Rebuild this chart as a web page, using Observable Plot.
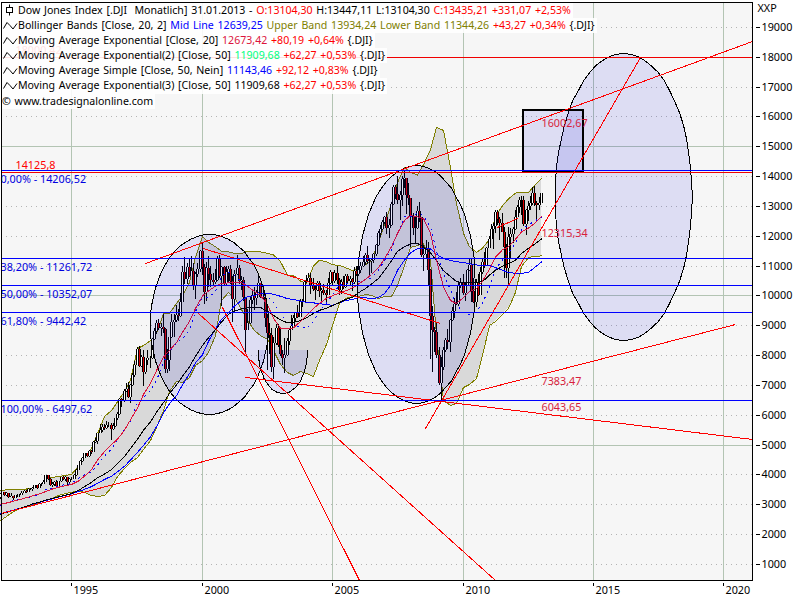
<!DOCTYPE html>
<html><head><meta charset="utf-8">
<script src="https://cdn.jsdelivr.net/npm/d3@7"></script>
<script src="https://cdn.jsdelivr.net/npm/@observablehq/plot@0.6"></script>
<style>
html,body{margin:0;padding:0;background:#fff}
#wrap{position:relative;width:800px;height:600px;overflow:hidden}
#legend{position:absolute;left:2px;top:3px;font:10.6px "Noto Sans",sans-serif;color:#000}
#legend div{height:15.1px;line-height:15px;white-space:pre;width:max-content;background:rgba(255,255,255,.88);padding-right:2px;word-spacing:1px}
#legend .i{display:inline-block;width:16px;height:13px;vertical-align:top;text-align:left}
#legend .i svg{display:block}
</style></head><body><div id="wrap"><div id="chart"></div><div id="legend"></div></div>
<script>
// monthly candles, April 1992 to January 2013
const opens=[3236,3359,3397,3319,3394,3257,3272,3226,3305,
3301,3310,3370,3435,3428,3527,3516,3540,3651,3555,3681,3684,
3754,3978,3832,3636,3682,3758,3625,3765,3913,3843,3908,3739,
3834,3844,3971,4158,4321,4465,4556,4709,4611,4789,4756,5075,
5117,5395,5486,5587,5569,5643,5655,5529,5616,5882,6029,6522,
6448,6813,6877,6584,7009,7331,7673,8223,7622,7945,7442,7823,
7908,7907,8546,8800,9063,8900,8952,8883,7539,7843,8592,9117,
9181,9359,9307,9786,10789,10560,10971,10655,10829,10337,10730,10878,
11497,10941,10128,10922,10734,10522,10448,10522,11215,10651,10971,10414,
10788,10887,10495,9879,10735,10912,10502,10523,9950,8848,9075,9852,
10022,9920,10106,10404,9946,9925,9243,8737,8663,7592,8397,8896,
8342,8054,7891,7992,8480,8850,8985,9234,9416,9275,9801,9782,
10454,10488,10584,10358,10226,10188,10435,10140,10173,10080,10027,10428,
10783,10490,10766,10504,10192,10467,10275,10641,10482,10569,10440,10806,
10718,10865,10993,11109,11367,11168,11150,11186,11381,11679,12081,12221,
12463,12621,12269,12354,13063,13628,13409,13212,13358,13896,13930,13372,
13265,12650,12266,12263,12820,12638,11350,11378,11544,10851,9325,8829,
8776,8001,7063,7609,8168,8500,8447,9172,9496,9712,9713,10344,
10428,10067,10325,10857,11009,10137,9774,10466,10015,10788,11118,11006,
11578,11892,12226,12320,12811,12570,12414,12143,11614,10913,11955,12046,
12218,12633,12952,13212,13214,12393,12880,13009,13091,13437,13096,13026,
13104];
const highs=[3375,3415,3410,3425,3395,3390,3280,3325,3340,
3340,3450,3490,3480,3555,3560,3580,3655,3660,3700,3710,3800,
3990,3985,3895,3735,3790,3810,3790,3930,3945,3950,3880,3880,
3930,4012,4175,4330,4480,4600,4730,4700,4810,4820,5110,5220,
5405,5680,5700,5690,5780,5750,5720,5720,5890,6090,6560,6580,
6860,7080,7100,7040,7390,7800,8260,8300,8000,8180,7850,8170,
7980,8570,8900,9190,9220,9070,9370,8920,8200,8600,9380,9380,
9680,9560,10080,11000,11290,11100,11210,11330,11080,10800,11100,11530,
11750,11050,11120,11310,11000,10750,10900,11310,11350,10980,11000,11000,
10980,11030,10650,10860,11350,11010,10650,10610,9950,9560,9950,10200,
10280,10180,10670,10400,10350,9950,9380,9080,8900,8620,9050,9050,
8870,8180,8560,8560,8920,9350,9350,9460,9690,9880,9880,10480,
10700,10750,10760,10580,10320,10490,10480,10240,10370,10200,10570,10870,
10790,10850,10980,10570,10560,10650,10720,10720,10650,10600,10940,10990,
11050,11120,11330,11420,11670,11260,11240,11430,11730,12170,12360,12530,
12660,12790,12550,13120,13690,13700,14020,13500,14000,14200,13930,13770,
13280,12770,12620,13010,13140,12640,11700,11870,11790,10880,9650,8950,
9090,8280,7950,8260,8590,8880,9210,9630,9920,10120,10500,10580,
10730,10410,10880,11260,11210,10600,10560,10720,10950,11250,11450,11630,
11990,12400,12420,12880,12880,12620,12760,12290,11720,12280,12250,12290,
12850,13050,13290,13340,13340,12910,13160,13330,13650,13660,13160,13310,
13447];
const lows=[3180,3335,3265,3280,3220,3250,3135,3195,3255,
3240,3300,3365,3370,3425,3465,3450,3535,3520,3550,3620,3680,
3740,3825,3620,3590,3630,3615,3620,3745,3830,3790,3660,3680,
3825,3840,3960,4150,4310,4430,4550,4590,4600,4700,4740,5060,
5030,5380,5420,5480,5530,5580,5170,5480,5590,5830,5990,6260,
6440,6780,6560,6390,6970,7270,7660,7600,7600,6970,7380,7660,
7580,7880,8500,8700,8850,8630,8740,7400,7400,7470,8560,8600,
9120,9130,9270,9780,10400,10400,10630,10650,10200,9880,10620,10800,
10700,9730,9800,10300,10300,10350,10400,10500,10600,9650,10350,10320,
10430,10400,9100,9400,10700,10400,10180,9830,8060,8830,9060,9700,
9500,9680,10100,9900,9860,8950,7500,8040,7450,7200,8350,8280,
7980,7670,7400,7960,8350,8830,8990,9120,9250,9280,9620,9780,
10410,10440,10050,10140,9850,10150,9950,9790,10000,9700,10030,10400,
10330,10430,10400,10010,10050,10230,10240,10380,10350,10160,10400,10660,
10660,10760,10950,11010,11050,10700,10740,11080,11310,11650,11950,12190,
12400,12050,11940,12330,13030,13240,13080,12520,13000,13600,12720,13050,
11630,12020,11730,12230,12480,11290,10830,11220,10360,7880,7450,8120,
7910,7000,6470,7490,8100,8220,8090,9130,9250,9670,9650,10260,
10000,9830,10320,10830,9770,9750,9620,9980,10000,10710,10930,11000,
11580,11880,11550,12090,12350,11870,12140,10600,10600,10400,11230,11760,
12200,12630,12750,12710,12340,12040,12490,12880,13040,12990,12470,12880,
13104];
const closes=[3359,3397,3319,3394,3257,3272,3226,3305,3301,
3310,3370,3435,3428,3527,3516,3540,3651,3555,3681,3684,3754,
3978,3832,3636,3682,3758,3625,3765,3913,3843,3908,3739,3834,
3844,3971,4158,4321,4465,4556,4709,4611,4789,4756,5075,5117,
5395,5486,5587,5569,5643,5655,5529,5616,5882,6029,6522,6448,
6813,6877,6584,7009,7331,7673,8223,7622,7945,7442,7823,7908,
7907,8546,8800,9063,8900,8952,8883,7539,7843,8592,9117,9181,
9359,9307,9786,10789,10560,10971,10655,10829,10337,10730,10878,11497,
10941,10128,10922,10734,10522,10448,10522,11215,10651,10971,10414,10788,
10887,10495,9879,10735,10912,10502,10523,9950,8848,9075,9852,10022,
9920,10106,10404,9946,9925,9243,8737,8663,7592,8397,8896,8342,
8054,7891,7992,8480,8850,8985,9234,9416,9275,9801,9782,10454,
10488,10584,10358,10226,10188,10435,10140,10173,10080,10027,10428,10783,
10490,10766,10504,10192,10467,10275,10641,10482,10569,10440,10806,10718,
10865,10993,11109,11367,11168,11150,11186,11381,11679,12081,12221,12463,
12621,12269,12354,13063,13628,13409,13212,13358,13896,13930,13372,13265,
12650,12266,12263,12820,12638,11350,11378,11544,10851,9325,8829,8776,
8001,7063,7609,8168,8500,8447,9172,9496,9712,9713,10344,10428,
10067,10325,10857,11009,10137,9774,10466,10015,10788,11118,11006,11578,
11892,12226,12320,12811,12570,12414,12143,11614,10913,11955,12046,12218,
12633,12952,13212,13214,12393,12880,13009,13091,13437,13096,13026,13104,
13435];
// quarterly readings, Q2 1992 to Q1 2013
const upperBand=[3480,3500,3510,3515,3530,3550,3600,3880,3915,3950,3985,4016,4300,4590,4880,5380,5960,6160,6450,6800,7170,8240,8340,8500,8740,9413,9413,9750,10000,10450,11300,12000,11800,11650,11500,11480,11430,11420,11500,11500,11480,11430,11380,11150,10700,10690,10500,10420,11000,11200,11150,11050,11020,10950,10850,10950,11050,11200,11800,12400,13100,13800,14300,14150,14050,14400,14900,15650,15550,14300,13100,12100,11650,11460,11600,11900,12650,13030,13250,13450,13470,13470,13700,13934];
const lowerBand=[2475,2608,2776,2877,2944,3011,3078,3145,3212,3313,3380,3413,3480,3413,3313,3280,3313,3580,3950,4218,4420,4586,4855,5156,5592,6162,6799,7134,7100,7268,7670,7838,8106,8675,9849,10117,9950,9547,9178,8843,8675,8542,8173,7704,7435,7335,7469,7402,7302,7838,8374,9011,9748,9916,9983,9983,10050,10017,9916,9983,9983,10352,11022,11626,11693,11760,11190,8675,6497,6329,6396,6933,7033,7234,8005,9011,9145,9380,9581,10117,10989,11290,11324,11344];
const midLine=[2980,3050,3140,3200,3240,3280,3340,3510,3560,3630,3680,3710,3890,4000,4100,4330,4640,4870,5200,5510,5800,6410,6600,6830,7170,7790,8110,8440,8550,8860,9480,9920,9950,10160,10670,10800,10690,10480,10340,10170,10080,9990,9780,9430,9070,9010,8980,8910,9150,9520,9760,10030,10380,10430,10420,10470,10550,10610,10860,11190,11540,12080,12660,12650,12780,12700,12300,11500,10750,10200,9700,9450,9380,9500,9750,10300,10900,11200,11420,11780,12230,12380,12510,12639];
const ema20=[3020,3060,3120,3170,3240,3300,3370,3440,3530,3590,3640,3680,3800,3960,4180,4500,4780,5020,5200,5500,5850,6250,6700,7070,7500,7950,8180,8440,8780,9150,9580,10000,10170,10330,10420,10440,10450,10450,10330,10150,10020,9700,9250,8920,8900,8930,9150,9350,9580,9750,9920,10010,10100,10170,10270,10400,10560,10720,10950,11250,11650,12100,12530,12700,12650,12600,12100,11200,10300,9850,9750,9950,10150,10250,10500,10900,11300,11550,11650,11900,12150,12280,12430,12673];
const ema50=[2690,2750,2810,2880,2950,3030,3090,3160,3210,3270,3320,3380,3480,3610,3750,3910,4030,4180,4380,4620,4890,5200,5500,5780,6100,6430,6730,7020,7310,7630,7980,8340,8600,8870,9130,9380,9490,9570,9600,9610,9620,9480,9350,9200,9100,9110,9180,9270,9420,9520,9590,9680,9780,9880,9960,10110,10250,10400,10590,10850,11180,11500,11650,11740,11760,11640,11450,11180,10850,10650,10480,10450,10450,10450,10480,10700,10860,11000,11090,11200,11420,11600,11730,11910];
const sma50=[2700,2760,2820,2880,2950,3020,3080,3140,3200,3260,3320,3370,3440,3520,3610,3720,3850,3960,4110,4290,4500,4760,4990,5280,5620,6080,6390,6660,7020,7400,7760,8030,8480,8900,9220,9450,9660,9850,9970,10020,10070,10090,10060,9990,9910,9880,9830,9790,9770,9740,9710,9690,9770,9850,9880,9950,9940,9900,9950,10080,10400,10860,11200,11450,11590,11600,11580,11400,11250,11190,11150,11120,11080,11040,11020,11020,10950,10860,10790,10760,10760,10790,10950,11143];
// horizontal levels and labels
const fibLevels=[14206.52,11261.72,10352.07,9442.42,6497.62];
const fibLabels=["0,00% - 14206,52","38,20% - 11261,72","50,00% - 10352,07","61,80% - 9442,42","100,00% - 6497,62"];
const redLevels=[14125.8,18000.42];
const redLabels=["14125,8","18000,42"];
// trend segments [year1,value1,year2,value2]
const trendSegments=[
[1997.82,11089,2021.10,18531],
[1992.30,2709,2020.44,9044],
[2000.05,11592,2009.13,9078],
[2001.66,7268,2021.10,5190],
[2008.56,5558,2016.80,17994],
[1999.85,9413,2011.24,464],
[2000.77,9614,2006.03,464],
[2011.32,12296,2012.08,12598]];
// ellipse extents [yearMin,yearMax,valueMin,valueMax]
const ellipses=[[1998.01,2002.54,6028,12061],[2005.95,2010.47,6396,14374],[2013.54,2018.79,8508,18128]];
const halfEllipse=[2002.15,2004.03,6731,9615];
const boxExtent=[2012.32,2014.62,14140,16218];
const labelsBelow=[[2013,7383.47,"7383,47"],[2013,12315.34,"12315,34"],[2013,16002.67,"16002,67"]];
const labelsAbove=[[2013,6043.65,"6043,65"]];
const yTicks=d3.range(1000,19001,1000);
const xTicks=[1995,2000,2005,2010,2015,2020];
const legendLines=[
 [["Dow Jones Index [.DJI  Monatlich] 31.01.2013 - ","#000"],["O:13104,30 ","#f00"],["H:13447,11 L:13104,30 ","#000"],["C:13435,21 +331,07 +2,53%","#f00"]],
 [["Bollinger Bands [Close, 20, 2] ","#000"],["Mid Line 12639,25 ","#00f"],["Upper Band 13934,24 Lower Band 11344,26 ","#808000"],["+43,27 +0,34% ","#f00"],["{.DJI}","#000"]],
 [["Moving Average Exponential [Close, 20] ","#000"],["12673,42 ","#dc143c"],["+80,19 +0,64% ","#f00"],["{.DJI}","#000"]],
 [["Moving Average Exponential(2) [Close, 50] ","#000"],["11909,68 ","#00ff7f"],["+62,27 +0,53% ","#f00"],["{.DJI}","#000"]],
 [["Moving Average Simple [Close, 50, Nein] ","#000"],["11143,46 ","#00f"],["+92,12 +0,83% ","#f00"],["{.DJI}","#000"]],
 [["Moving Average Exponential(3) [Close, 50] ","#000"],["11909,68 ","#000"],["+62,27 +0,53% ","#f00"],["{.DJI}","#000"]]
];
const creditLine="© www.tradesignalonline.com";

const candles=closes.map((c,i)=>({t:1992.25+i/12,o:opens[i],h:highs[i],l:lows[i],c}));
const quarterly=upperBand.map((u,i)=>({t:1992.25+i/4,u,l:lowerBand[i],m:midLine[i],e20:ema20[i],e50:ema50[i],s50:sma50[i]}));
const ell=(b,from=0,to=2*Math.PI)=>d3.range(0,61).map(k=>{const a=from+(to-from)*k/60;
  return {x:(b[0]+b[1])/2+(b[1]-b[0])/2*Math.cos(a),y:(b[2]+b[3])/2+(b[3]-b[2])/2*Math.sin(a)};});
const lav="rgb(20,20,220)";
const font='"Noto Sans",sans-serif';
const labelColor="#d81e3c";
const gridMinor=yTicks.filter(v=>v%5000);
const gridMajor=yTicks.filter(v=>v%5000===0);
const half=ell(halfEllipse,Math.PI,2*Math.PI);

const plot=Plot.plot({
 width:800,height:600,marginLeft:1,marginRight:48,marginTop:2,marginBottom:20,
 style:{fontFamily:font,fontSize:"10.8px",background:"#fff",color:"#000",shapeRendering:"crispEdges"},
 x:{domain:[1992.30,2021.10],range:[1,752],round:true},
 y:{domain:[463,19838],range:[580,2]},
 marks:[
  Plot.frame({fill:"#f6f6f6",stroke:"none"}),
  Plot.ruleY(gridMinor,{stroke:"#b4b4b4",strokeDasharray:"1,4"}),
  Plot.ruleY(gridMajor,{stroke:"#b3c4b3"}),
  Plot.ruleX(xTicks,{stroke:"#b3c4b3"}),
  Plot.areaY(quarterly,{x:"t",y1:"l",y2:"u",fill:"#d9d9d9"}),
  Plot.line(quarterly,{x:"t",y:"u",stroke:"#808000",strokeWidth:1}),
  Plot.line(quarterly,{x:"t",y:"l",stroke:"#808000",strokeWidth:1}),
  Plot.ruleX(candles,{x:"t",y1:"l",y2:"h",stroke:"#000",strokeWidth:1}),
  Plot.ruleX(candles,{x:"t",y1:"o",y2:"c",stroke:"#000",strokeWidth:3}),
  Plot.ruleX(candles,{x:"t",y1:"o",y2:"c",stroke:d=>d.c>=d.o?"#fff":"#e00000",strokeWidth:1}),
  Plot.line(quarterly,{x:"t",y:"m",stroke:"#0000ff",strokeWidth:1,strokeDasharray:"1,5"}),
  Plot.line(quarterly,{x:"t",y:"s50",stroke:"#0000ff",strokeWidth:1}),
  Plot.line(quarterly,{x:"t",y:"e50",stroke:"#000",strokeWidth:1}),
  Plot.line(quarterly,{x:"t",y:"e20",stroke:"#dc143c",strokeWidth:1}),
  ...ellipses.map(b=>Plot.line(ell(b),{x:"x",y:"y",fill:lav,fillOpacity:.11,stroke:"#000",strokeWidth:1})),
  Plot.line(half,{x:"x",y:"y",fill:lav,fillOpacity:.11,stroke:null}),
  Plot.line(half,{x:"x",y:"y",stroke:"#000",strokeWidth:1}),
  Plot.rect([boxExtent],{x1:d=>d[0],x2:d=>d[1],y1:d=>d[2],y2:d=>d[3],fill:lav,fillOpacity:.11,stroke:"#000",strokeWidth:1.5}),
  Plot.ruleY(redLevels,{stroke:"#f00000",strokeWidth:1}),
  Plot.link(trendSegments,{x1:d=>d[0],y1:d=>d[1],x2:d=>d[2],y2:d=>d[3],stroke:"#ff0000",strokeWidth:1,clip:true}),
  Plot.ruleY(fibLevels,{stroke:"#0000ff",strokeWidth:1}),
  Plot.text(fibLevels,{x:()=>1992.30,y:d=>d,text:(d,i)=>fibLabels[i],textAnchor:"start",dy:9,dx:-1,fill:"#0000e0",fontSize:10.8}),
  Plot.text(redLevels,{x:()=>1992.84,y:d=>d,text:(d,i)=>redLabels[i],textAnchor:"start",dy:-7,fill:"#f00",fontSize:10.8}),
  Plot.text(labelsBelow,{x:d=>d[0],y:d=>d[1],text:d=>d[2],dy:7,textAnchor:"start",fill:labelColor,fontSize:10.8}),
  Plot.text(labelsAbove,{x:d=>d[0],y:d=>d[1],text:d=>d[2],dy:-6,textAnchor:"start",fill:labelColor,fontSize:10.8}),
  Plot.frame({stroke:"#000",strokeWidth:1.5}),
  Plot.axisY(yTicks,{anchor:"right",label:null,tickSize:4,dx:3,tickPadding:2,tickFormat:d=>String(d)}),
  Plot.axisX(xTicks,{anchor:"bottom",label:null,tickSize:3,dy:3,tickFormat:()=>""}),
  Plot.axisX(xTicks,{anchor:"bottom",label:null,tickSize:0,tickPadding:6,dx:2,textAnchor:"start",tickFormat:d=>String(d)}),
  Plot.text(["XXP"],{x:()=>2021.10,y:()=>19637,text:d=>d,dx:5,textAnchor:"start",fill:"#000"})
 ]
});
document.getElementById("chart").appendChild(plot);
const lg=document.getElementById("legend");
legendLines.forEach((segs,i)=>{
  const div=document.createElement("div");
  const ic=document.createElement("span");ic.className="i";
  ic.innerHTML=i===0
   ?'<svg width="14" height="14"><path d="M7.5 1.5v11" stroke="#000" fill="none"/><rect x="4.5" y="4.5" width="6" height="5" fill="#fff" stroke="#000"/></svg>'
   :'<svg width="16" height="14"><path d="M1.5 10.5L5 4.5L8 7.5L11 11L15 5.5" stroke="#000" fill="none"/></svg>';
  div.appendChild(ic);
  segs.forEach(([t,c])=>{const s=document.createElement("span");s.textContent=t;s.style.color=c;div.appendChild(s);});
  lg.appendChild(div);
});
const cr=document.createElement("div");cr.textContent=creditLine;lg.appendChild(cr);
</script></body></html>
